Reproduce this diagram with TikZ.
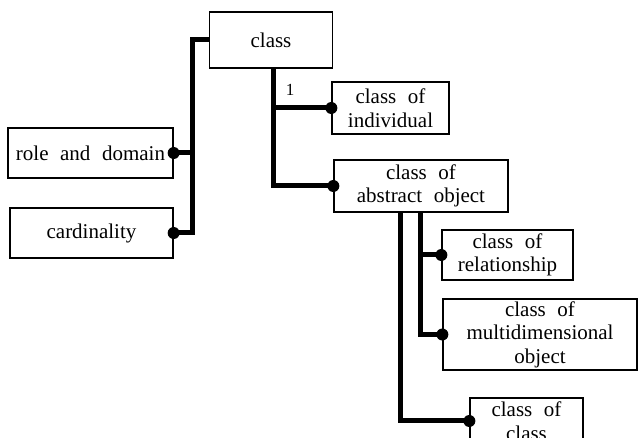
\documentclass[tikz,border=0pt]{standalone}
\usepackage{fontspec}
\setmainfont{Liberation Serif}[WordSpace=2.2]
\usetikzlibrary{
    arrows.meta,
    positioning,
    calc
}
\tikzset{
  box/.style  = {draw, line width=1.3pt, inner sep=0pt, align=center,
                 font=\fontsize{21}{23.5}\selectfont},
  link/.style = {line width=5pt},
  tag/.style  = {inner sep=0pt, font=\fontsize{17}{19}\selectfont}
}

\begin{document}
\begin{tikzpicture}[x=1pt, y=-1pt,
    dot/.style={fill=black}
]
\useasboundingbox (0,0) rectangle (638,438);

\node[box, minimum width=123pt, minimum height=56pt] (cls)    at (271,40)    {class};
\node[box, minimum width=165pt, minimum height=50pt] (role)   at (90.5,153)  {role and domain};
\node[box, minimum width=163pt, minimum height=50pt] (card)   at (91.5,233)  {cardinality};
\node[box, minimum width=117pt, minimum height=52pt] (indiv)  at (390.5,108) {class of\\individual};
\node[box, minimum width=174pt, minimum height=52pt] (abstr)  at (421,186)   {class of\\abstract object};
\node[box, minimum width=131pt, minimum height=50pt] (relat)  at (507.5,255) {class of\\relationship};
\node[box, minimum width=194pt, minimum height=71pt] (multi)  at (540,334.5) {class of\\multidimensional\\object};
\node[box, minimum width=113pt, minimum height=46pt] (clscls) at (526.5,421) {class of\\class};

% attributes of class
\draw[link] (cls.west) -| ([xshift=19pt]card.east) -- (card.east);
\draw[link] (role.east) -- ++(19pt,0);

% subtypes of class
\coordinate (t1) at ([xshift=2pt]cls.south);
\draw[link] (t1) |- (abstr.west);
\draw[link] (indiv.west) -- (indiv.west -| t1);
\node[tag] (one) at (290,90) {1};

% subtypes of abstract object
\coordinate (t2) at ([xshift=-21pt]abstr.south);
\coordinate (t3) at ([xshift=-1pt]abstr.south);
\draw[link] (t2) |- (clscls.west);
\draw[link] (t3) |- (multi.west);
\draw[link] (relat.west) -- (relat.west -| t3);

\foreach \n in {role.east, card.east, indiv.west, abstr.west,
                relat.west, multi.west, clscls.west}
  \fill[dot] (\n) circle[radius=6pt];
\end{tikzpicture}
\end{document}
